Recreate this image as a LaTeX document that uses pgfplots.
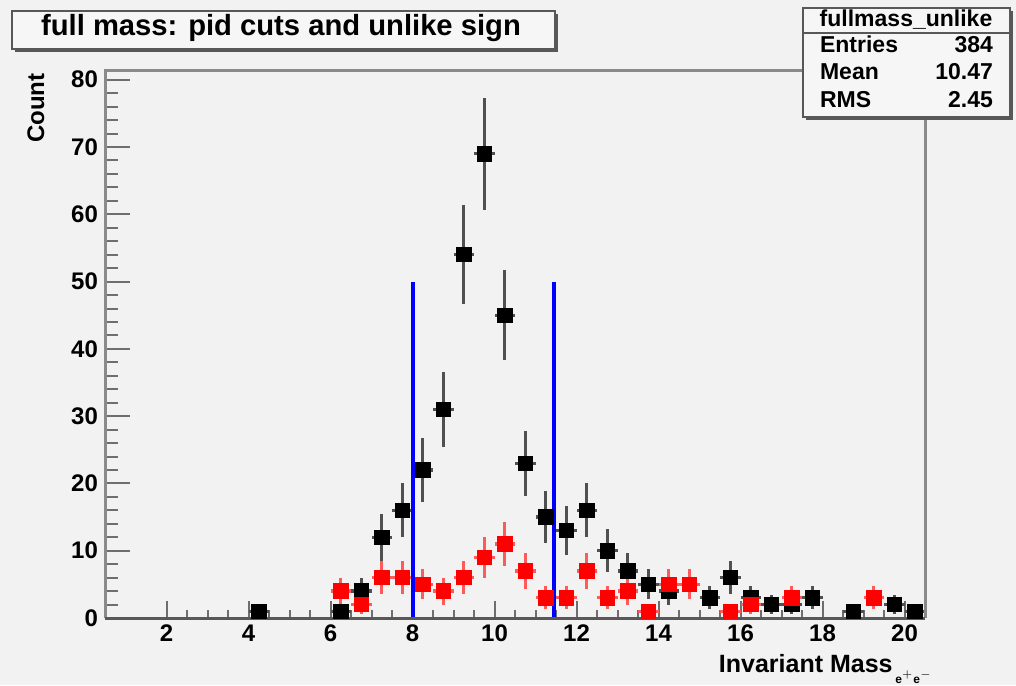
\documentclass[border=0pt]{standalone}
\usepackage{pgfplots}
\pgfplotsset{compat=1.18}
\usepackage{fontspec}
\setmainfont{Liberation Sans}
\definecolor{bg}{HTML}{F2F2F2}
\definecolor{boxbg}{HTML}{F6F6F6}
\definecolor{frameL}{HTML}{8A8A8A}
\definecolor{frameB}{HTML}{585858}
\definecolor{tickc}{HTML}{6E6E6E}
\definecolor{errgray}{HTML}{505050}
\definecolor{errred}{HTML}{FF5A5A}

\pgfplotstableread{
x y ey
4.25 1 1
6.25 1 1
6.75 4 2
7.25 12 3.46
7.75 16 4
8.25 22 4.69
8.75 31 5.57
9.25 54 7.35
9.75 69 8.31
10.25 45 6.71
10.75 23 4.80
11.25 15 3.87
11.75 13 3.61
12.25 16 4
12.75 10 3.16
13.25 7 2.65
13.75 5 2.24
14.25 4 2
15.25 3 1.73
15.75 6 2.45
16.25 3 1.73
16.75 2 1.41
17.25 2 1.41
17.75 3 1.73
18.75 1 1
19.75 2 1.41
20.25 1 1
}\blackdata

\pgfplotstableread{
x y ey
6.25 4 2
6.75 2 1.41
7.25 6 2.45
7.75 6 2.45
8.25 5 2.24
8.75 4 2
9.25 6 2.45
9.75 9 3
10.25 11 3.32
10.75 7 2.65
11.25 3 1.73
11.75 3 1.73
12.25 7 2.65
12.75 3 1.73
13.25 4 2
13.75 1 1
14.25 5 2.24
14.75 5 2.24
15.75 1 1
16.25 2 1.41
17.25 3 1.73
19.25 3 1.73
}\reddata

\begin{document}
\begin{tikzpicture}
\begin{scope}[x=0.5pt,y=0.5pt]
\fill[bg] (0,0) rectangle (1016,685);
\useasboundingbox (0,0) rectangle (1016,685);
\end{scope}
\begin{axis}[
  at={(52.5pt,33.5pt)}, anchor=south west,
  scale only axis, width=410pt, height=273.5pt,
  xmin=0.5, xmax=20.5, ymin=0, ymax=81.3,
  axis line style={draw=none},
  tick pos=left, tick align=inside,
  xtick={2,4,...,20}, ytick={0,10,...,80},
  minor x tick num=3, minor y tick num=4,
  major tick length=12.5pt, minor tick length=6.5pt,
  xtick style={/pgfplots/major tick length=8.5pt, /pgfplots/minor tick length=4pt},
  tick style={color=tickc, line width=1pt},
  ticklabel style={font=\fontsize{12}{12}\selectfont\bfseries},
  /pgf/number format/assume math mode=true,
  clip=false,
]
\addplot[only marks, mark=square*, mark size=3.6pt, color=black,
  error bars/.cd, x dir=both, x fixed=0.25, y dir=both, y explicit,
  error mark=none, error bar style={line width=1.6pt, color=errgray}]
  table[x=x, y=y, y error=ey] {\blackdata};
\addplot[only marks, mark=square*, mark size=3.6pt, color=red,
  error bars/.cd, x dir=both, x fixed=0.25, y dir=both, y explicit,
  error mark=none, error bar style={line width=1.6pt, color=errred}]
  table[x=x, y=y, y error=ey] {\reddata};
\addplot[blue, line width=2pt] coordinates {(8.0,0) (8.0,50)};
\addplot[blue, line width=2pt] coordinates {(11.46,0) (11.46,50)};
\draw[frameL, line width=1.5pt] (rel axis cs:0,0) -- (rel axis cs:0,1) -- (rel axis cs:1,1) -- (rel axis cs:1,0);
\draw[frameB, line width=1.5pt] (rel axis cs:0,0) -- (rel axis cs:1,0);
\end{axis}
\begin{scope}[x=0.5pt,y=0.5pt]
% title box
\fill[frameB] (15,633) rectangle (558,671);
\filldraw[fill=boxbg, draw=frameB, line width=1pt] (12,636) rectangle (555,674);
\node[font=\fontsize{14.6}{14.6}\selectfont\bfseries, anchor=base] at (281,649) {full mass: pid cuts and unlike sign};
% stats box
\fill[frameB] (806,565) rectangle (1013,674);
\filldraw[fill=boxbg, draw=frameB, line width=1pt] (803,568) rectangle (1010,677);
\draw[frameB, line width=1pt] (803,652) -- (1010,652);
\node[font=\fontsize{11.5}{11.5}\selectfont\bfseries, anchor=base] at (906,658) {fullmass\_unlike};
\node[font=\fontsize{11.5}{11.5}\selectfont\bfseries, anchor=base west] at (813,632) {Entries};
\node[font=\fontsize{11.5}{11.5}\selectfont\bfseries, anchor=base east] at (1000,632) {384};
\node[font=\fontsize{11.5}{11.5}\selectfont\bfseries, anchor=base west] at (813,605) {Mean};
\node[font=\fontsize{11.5}{11.5}\selectfont\bfseries, anchor=base east] at (1000,605) {10.47};
\node[font=\fontsize{11.5}{11.5}\selectfont\bfseries, anchor=base west] at (813,577) {RMS};
\node[font=\fontsize{11.5}{11.5}\selectfont\bfseries, anchor=base east] at (1000,577) {2.45};
% axis titles
\node[font=\fontsize{12}{12}\selectfont\bfseries, rotate=90, anchor=north east, inner sep=0pt] at (27,612) {Count};
\node[font=\fontsize{12.5}{12.5}\selectfont\bfseries, anchor=base east, inner sep=0pt] at (893,13) {Invariant Mass};
\node[font=\fontsize{6}{6}\selectfont\bfseries, anchor=base west, inner sep=0pt] at (895,2) {e$^{+}$e$^{-}$};
\end{scope}
\end{tikzpicture}
\end{document}
